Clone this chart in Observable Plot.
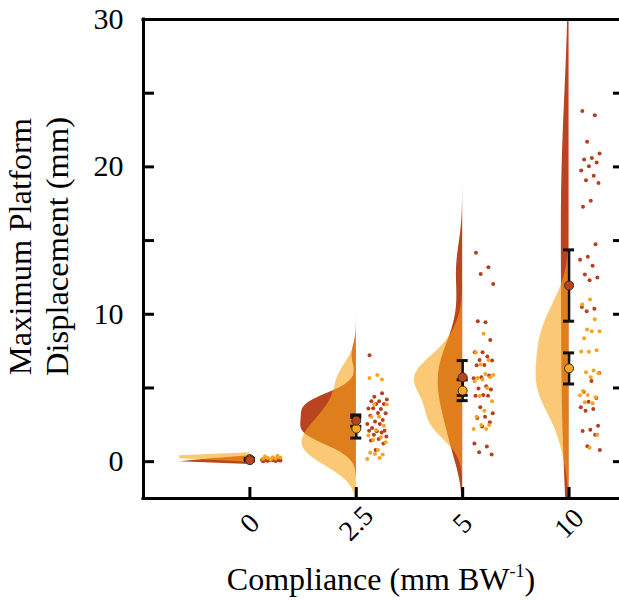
<!DOCTYPE html>
<html><head><meta charset="utf-8">
<script src="https://cdn.jsdelivr.net/npm/d3@7"></script>
<script src="https://cdn.jsdelivr.net/npm/@observablehq/plot@0.6"></script>
<style>
html,body{margin:0;padding:0;background:#fff;}
#chart svg{display:block;}
#xlabel{width:476px;margin-left:143px;height:50px;text-align:center;font-family:'Liberation Serif','Times New Roman',serif;font-size:32px;line-height:32px;padding-top:13px;box-sizing:border-box;color:#000;}
#xlabel sup{font-size:18px;line-height:0;vertical-align:13px;}
</style></head><body>
<div id="chart"></div>
<div id="xlabel">Compliance (mm BW<sup>-1</sup>)</div>
<script>
// ---------------- data ----------------
const categories = ["0", "2.5", "5", "10"];
const seriesNames = ["A", "B"]; // A = dark red-orange, B = light orange

const darkG0  = [0.02, 0.05, 0.06, 0.08, 0.09, 0.1, 0.11, 0.12, 0.13, 0.15, 0.07, 0.1];
const darkG25 = [7.22, 4.64, 4.41, 4.21, 4.09, 4.09, 3.92, 3.92, 3.6, 3.58, 3.62, 3.28, 3.3, 3.12, 2.83, 2.72, 2.56, 2.56, 2.29, 2.1, 2.06, 2.1, 1.97, 1.83, 1.7, 1.54, 1.43, 1.24, 0.79];
const darkG5  = [14.17, 13.19, 12.74, 12.06, 9.46, 9.53, 8.26, 7.42, 7.42, 7.13, 6.9, 6.86, 6.56, 6.54, 5.84, 5.72, 5.66, 5.11, 4.96, 4.89, 4.53, 4.48, 4.48, 3.69, 3.28, 3.05, 2.96, 2.67, 2.38, 1.24, 1.02, 0.63, 0.48];
const darkG10 = [23.8, 23.5, 21.7, 20.9, 20.6, 20.5, 20.3, 20.05, 19.75, 19.4, 19.1, 18.9, 17.7, 17.3, 14.75, 13.9, 13.7, 13.3, 12.7, 12.5, 12.3, 10.5, 10.37, 10.2, 6.02, 5.48, 4.75, 4.32, 4.07, 3.69, 3.58, 3.46, 2.44, 2.17, 2.08, 1.83, 1.04, 0.79];

const lightG0  = [0.15, 0.2, 0.22, 0.25, 0.28, 0.3, 0.35, 0.4];
const lightG25 = [5.88, 5.68, 5.57, 3.87, 3.87, 3.05, 3.05, 2.44, 2.15, 1.77, 1.65, 1.47, 1.31, 0.79, 0.61, 0.48, 0.52, 0.18, 0.25];
const lightG5  = [8.67, 7.4, 6.9, 6.6, 5.88, 5.95, 5.68, 5.72, 5.57, 5.45, 5.0, 4.46, 4.09, 3.46, 3.05, 2.49, 2.49, 2.22, 2.22];
const lightG10 = [11.0, 10.66, 9.66, 8.96, 8.85, 8.85, 8.37, 7.56, 7.45, 7.47, 6.18, 6.06, 6.0, 5.72, 4.8, 4.37, 4.53, 4.5, 3.96, 4.03, 1.83, 0.95];

const darkMean  = [0.1, 2.78, 5.72, 11.95];
const darkLow   = [0.06, 2.4, 4.5, 9.53];
const darkHigh  = [0.14, 3.17, 6.86, 14.37];
const lightMean = [0.17, 2.24, 4.82, 6.33];
const lightLow  = [0.13, 1.6, 4.14, 5.27];
const lightHigh = [0.21, 3.0, 5.55, 7.38];

const yTicks = [0, 5, 10, 15, 20, 25, 30];
const yTickLabels = [0, 10, 20, 30];
const yTitle = "Maximum Platform\nDisplacement (mm)";

// ---------------- styling / layout constants ----------------
const DARK = "#b9441f", LIGHT = "#f8a51b";
const DARK_DOT = "#b5401c", LIGHT_DOT = "#f6a41e";
const xDomain = [-1, 3.474], yDomain = [-2.5, 30];
const K_DARK = 2.0, K_LIGHT = 2.6, MAXW = 0.66;

const darkGroups = [darkG0, darkG25, darkG5, darkG10];
const lightGroups = [lightG0, lightG25, lightG5, lightG10];

// kernel density (bandwidth: MAD-based normal reference rule)
const gridY = d3.range(-20, 181).map(i => i * 0.2);
function bandwidth(v) {
  const med = d3.median(v);
  const mad = d3.median(v, x => Math.abs(x - med));
  return (mad / 0.6745) * Math.pow(4 / (3 * v.length), 0.2);
}
function violin(values, ci, series, k) {
  const h = bandwidth(values), n = values.length, c = 1 / (n * h * Math.sqrt(2 * Math.PI));
  return gridY.map(y => {
    let s = 0;
    for (const v of values) { const u = (y - v) / h; s += Math.exp(-0.5 * u * u); }
    const w = Math.min(k * s * c, MAXW);
    return {key: series + ci, series, y, x1: ci - w, x2: ci};
  });
}
const darkViolins = darkGroups.flatMap((g, i) => violin(g, i, "A", K_DARK));
const lightViolins = lightGroups.flatMap((g, i) => violin(g, i, "B", K_LIGHT));

function frac(x) { return x - Math.floor(x); }
const darkPts = darkGroups.flatMap((g, i) => g.map((v, j) => ({x: i + 0.1 + 0.19 * frac(j * 0.618034 + 0.13), y: v})));
const lightPts = lightGroups.flatMap((g, i) => g.map((v, j) => ({x: i + 0.1 + 0.19 * frac(j * 0.618034 + 0.51), y: v})));

const stats = categories.map((c, i) => ({i, dm: darkMean[i], dl: darkLow[i], dh: darkHigh[i], lm: lightMean[i], ll: lightLow[i], lh: lightHigh[i]}));
const CAP = 0.052;

const font = "'Liberation Serif','Times New Roman',serif";

const plot = Plot.plot({
  width: 619,
  height: 550,
  marginLeft: 143,
  marginRight: 0,
  marginTop: 19,
  marginBottom: 52,
  style: {fontFamily: font, background: "#fff", color: "#000"},
  x: {domain: xDomain, axis: null},
  y: {domain: yDomain, axis: null},
  marks: [
    Plot.areaX(darkViolins, {y: "y", x1: "x1", x2: "x2", z: "key", fill: DARK, clip: true}),
    Plot.areaX(lightViolins, {y: "y", x1: "x1", x2: "x2", z: "key", fill: LIGHT, fillOpacity: 0.6, clip: true}),
    Plot.dot(darkPts, {x: "x", y: "y", r: 2, fill: DARK_DOT}),
    Plot.dot(lightPts, {x: "x", y: "y", r: 2, fill: LIGHT_DOT}),
    // error bars
    Plot.ruleX(stats, {x: "i", y1: "ll", y2: "lh", stroke: "#111", strokeWidth: 2.5}),
    Plot.ruleY(stats, {y: "ll", x1: d => d.i - CAP, x2: d => d.i + CAP, stroke: "#111", strokeWidth: 3}),
    Plot.ruleY(stats, {y: "lh", x1: d => d.i - CAP, x2: d => d.i + CAP, stroke: "#111", strokeWidth: 3}),
    Plot.ruleX(stats, {x: "i", y1: "dl", y2: "dh", stroke: "#111", strokeWidth: 2.5}),
    Plot.ruleY(stats, {y: "dl", x1: d => d.i - CAP, x2: d => d.i + CAP, stroke: "#111", strokeWidth: 3}),
    Plot.ruleY(stats, {y: "dh", x1: d => d.i - CAP, x2: d => d.i + CAP, stroke: "#111", strokeWidth: 3}),
    Plot.dot(stats, {x: "i", y: "lm", r: 4.5, fill: "#f7a823", stroke: "#3a2a1a", strokeWidth: 1}),
    Plot.dot(stats, {x: "i", y: "dm", r: 4.5, fill: DARK, stroke: "#3a2a1a", strokeWidth: 1}),
    // frame
    Plot.ruleY(yDomain, {stroke: "#000", strokeWidth: 3, strokeLinecap: "square"}),
    Plot.ruleX([xDomain[0]], {stroke: "#000", strokeWidth: 3, strokeLinecap: "square"}),
    // inward ticks
    Plot.axisY({ticks: yTicks, anchor: "left", tickSize: 11, dx: 11, tickFormat: () => "", strokeWidth: 3, label: null}),
    Plot.axisY({ticks: yTicks, anchor: "right", tickSize: 7, dx: -7, tickFormat: () => "", strokeWidth: 3, label: null}),
    Plot.axisX({ticks: [0, 1, 2, 3], anchor: "bottom", tickSize: 11, dy: -11, tickFormat: () => "", strokeWidth: 3, label: null}),
    // tick labels
    Plot.text(yTickLabels, {y: d => d, frameAnchor: "left", dx: -20, text: d => String(d), textAnchor: "end", lineAnchor: "middle", fontSize: 30, fill: "#000"}),
    Plot.text(categories, {x: (d, i) => i, frameAnchor: "bottom", dy: 25, text: d => d, rotate: -45, textAnchor: "middle", lineAnchor: "middle", fontSize: 28, fill: "#000"}),
    // y title
    Plot.text([yTitle], {frameAnchor: "left", dx: -106, dy: -12.5, text: d => d, rotate: -90, textAnchor: "middle", lineAnchor: "middle", lineHeight: 1.15, fontSize: 32.5, fill: "#000"})
  ]
});
document.getElementById("chart").appendChild(plot);
</script>
</body></html>
